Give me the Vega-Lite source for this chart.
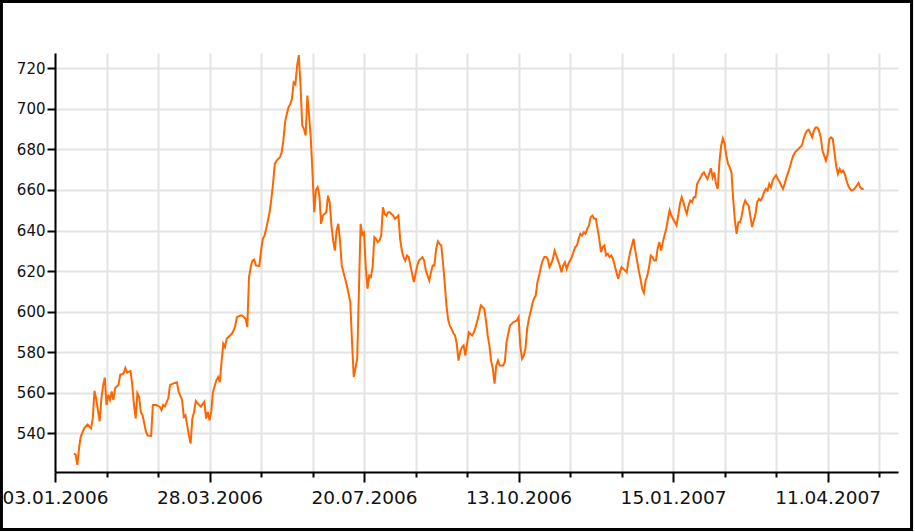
{
"$schema":"https://vega.github.io/schema/vega-lite/v6.json",
"width":843,"height":419,
"autosize":{"type":"none"},
"padding":{"left":55,"top":53,"right":17,"bottom":60},
"background":"white",
"config":{"view":{"stroke":null},"axis":{"domainColor":"#000000","domainWidth":2,"tickColor":"#000000","tickWidth":2,"gridColor":"#e3e3e3","gridWidth":2,"labelColor":"#111111","labelFont":"DejaVu Sans","title":null}},
"data":{"values":[
{"n":11,"v":530},{"n":12,"v":529.6},{"n":13,"v":524.5},{"n":14,"v":532.6},{"n":15,"v":538.5},{"n":17,"v":542.5},{"n":19,"v":544.4},{"n":21,"v":542.5},{"n":22,"v":547.4},{"n":23,"v":561},{"n":24,"v":557},{"n":26,"v":546},{"n":27,"v":557},{"n":28,"v":563.5},{"n":29,"v":567.5},{"n":30,"v":554},{"n":31,"v":559},{"n":32,"v":556.5},{"n":33,"v":560.7},{"n":34,"v":556.5},{"n":35,"v":562.3},{"n":37,"v":564},{"n":38,"v":568.9},{"n":40,"v":569.6},{"n":41,"v":572.2},{"n":42,"v":570},{"n":44,"v":570.8},{"n":45,"v":564},{"n":46,"v":554},{"n":47,"v":547.4},{"n":48,"v":559.8},{"n":49,"v":558},{"n":50,"v":550.6},{"n":51,"v":549},{"n":53,"v":540.8},{"n":54,"v":539},{"n":56,"v":538.8},{"n":57,"v":554},{"n":59,"v":554},{"n":61,"v":553.2},{"n":62,"v":551.5},{"n":63,"v":554},{"n":64,"v":553.3},{"n":66,"v":557.3},{"n":67,"v":563.9},{"n":69,"v":564.7},{"n":71,"v":565.2},{"n":72,"v":560.6},{"n":74,"v":556.5},{"n":75,"v":548.2},{"n":76,"v":549},{"n":77,"v":544},{"n":78,"v":539},{"n":79,"v":535},{"n":80,"v":547.4},{"n":81,"v":550.6},{"n":82,"v":556},{"n":84,"v":554},{"n":85,"v":553.2},{"n":87,"v":555.6},{"n":88,"v":547.4},{"n":89,"v":550.6},{"n":90,"v":546.5},{"n":91,"v":550.6},{"n":92,"v":560.5},{"n":94,"v":566.2},{"n":95,"v":567.8},{"n":96,"v":565.3},{"n":97,"v":575.2},{"n":98,"v":584.2},{"n":99,"v":582.6},{"n":100,"v":586.7},{"n":101,"v":587.5},{"n":103,"v":589.1},{"n":104,"v":590.7},{"n":105,"v":593.2},{"n":106,"v":597.3},{"n":108,"v":598.1},{"n":109,"v":598.1},{"n":111,"v":596.5},{"n":112,"v":592.4},{"n":113,"v":617},{"n":114,"v":622},{"n":115,"v":625.2},{"n":116,"v":625.7},{"n":117,"v":622.8},{"n":119,"v":622.5},{"n":120,"v":630},{"n":121,"v":635.8},{"n":122,"v":637.5},{"n":123,"v":640.8},{"n":124,"v":644.9},{"n":125,"v":649},{"n":126,"v":655.6},{"n":127,"v":663},{"n":128,"v":672.8},{"n":129,"v":674.4},{"n":131,"v":676.1},{"n":132,"v":678.5},{"n":133,"v":684.3},{"n":134,"v":693.3},{"n":135,"v":697.4},{"n":136,"v":700.7},{"n":137,"v":702.3},{"n":138,"v":704.8},{"n":139,"v":713},{"n":140,"v":712},{"n":141,"v":721},{"n":142,"v":726.5},{"n":143,"v":711.5},{"n":144,"v":691.8},{"n":145,"v":690},{"n":146,"v":686.9},{"n":147,"v":706.5},{"n":148,"v":696.7},{"n":149,"v":685.2},{"n":150,"v":668},{"n":151,"v":649},{"n":152,"v":660},{"n":153,"v":661.4},{"n":154,"v":657.2},{"n":155,"v":643.3},{"n":156,"v":647.4},{"n":157,"v":648.2},{"n":158,"v":649},{"n":159,"v":657.2},{"n":160,"v":654},{"n":161,"v":642.5},{"n":162,"v":635.1},{"n":163,"v":630.1},{"n":164,"v":640},{"n":165,"v":643.3},{"n":166,"v":635.1},{"n":167,"v":622.8},{"n":168,"v":619.5},{"n":169,"v":616.2},{"n":170,"v":612.9},{"n":171,"v":608.8},{"n":172,"v":604.7},{"n":173,"v":585},{"n":174,"v":567.8},{"n":175,"v":572},{"n":176,"v":576.8},{"n":177,"v":610},{"n":178,"v":643.3},{"n":179,"v":638},{"n":180,"v":639},{"n":181,"v":622},{"n":182,"v":611.3},{"n":183,"v":617.8},{"n":184,"v":617},{"n":185,"v":622},{"n":186,"v":636.7},{"n":187,"v":635.9},{"n":188,"v":634.3},{"n":189,"v":635.1},{"n":190,"v":637.5},{"n":191,"v":651.5},{"n":192,"v":648.2},{"n":193,"v":647.4},{"n":194,"v":649},{"n":195,"v":649},{"n":196,"v":648.2},{"n":197,"v":647.4},{"n":198,"v":645.8},{"n":199,"v":646.6},{"n":200,"v":647.4},{"n":201,"v":636},{"n":202,"v":630.1},{"n":203,"v":626.9},{"n":204,"v":625.2},{"n":205,"v":627.7},{"n":206,"v":626.9},{"n":207,"v":622.8},{"n":208,"v":618.7},{"n":209,"v":614.6},{"n":210,"v":618.7},{"n":211,"v":622.8},{"n":212,"v":625.2},{"n":214,"v":626.9},{"n":215,"v":625.2},{"n":216,"v":620.3},{"n":217,"v":617.8},{"n":218,"v":615.4},{"n":219,"v":619.5},{"n":220,"v":622.8},{"n":221,"v":622.8},{"n":222,"v":631},{"n":223,"v":634.6},{"n":224,"v":633.4},{"n":225,"v":632.5},{"n":226,"v":624},{"n":227,"v":614},{"n":228,"v":603},{"n":229,"v":596},{"n":230,"v":593},{"n":231,"v":591.5},{"n":232,"v":589.5},{"n":233,"v":588.3},{"n":234,"v":584.2},{"n":235,"v":575.9},{"n":236,"v":580.1},{"n":237,"v":582.5},{"n":238,"v":583.4},{"n":239,"v":578.4},{"n":240,"v":584.2},{"n":241,"v":589.9},{"n":243,"v":588.3},{"n":244,"v":589.9},{"n":245,"v":592.4},{"n":246,"v":595.7},{"n":247,"v":599},{"n":248,"v":603.1},{"n":249,"v":602.3},{"n":250,"v":601.4},{"n":251,"v":595.7},{"n":252,"v":588.3},{"n":253,"v":583.4},{"n":254,"v":575.9},{"n":255,"v":571.9},{"n":256,"v":564.5},{"n":257,"v":573.5},{"n":258,"v":575.9},{"n":259,"v":573.5},{"n":261,"v":573.5},{"n":262,"v":575.2},{"n":263,"v":585},{"n":264,"v":589.1},{"n":265,"v":593.2},{"n":266,"v":594},{"n":267,"v":594.9},{"n":268,"v":595.2},{"n":269,"v":595.7},{"n":270,"v":597.3},{"n":271,"v":583.4},{"n":272,"v":576.8},{"n":273,"v":578.4},{"n":274,"v":581.7},{"n":275,"v":591.5},{"n":276,"v":596.5},{"n":277,"v":599.8},{"n":278,"v":603.9},{"n":279,"v":606.4},{"n":280,"v":608},{"n":281,"v":614.6},{"n":282,"v":617.8},{"n":283,"v":622},{"n":284,"v":625.2},{"n":285,"v":626.9},{"n":286,"v":626.9},{"n":287,"v":626},{"n":288,"v":622},{"n":289,"v":623.6},{"n":290,"v":626},{"n":291,"v":630.1},{"n":292,"v":627.7},{"n":293,"v":625.2},{"n":294,"v":622.8},{"n":295,"v":619.5},{"n":296,"v":622.8},{"n":297,"v":624.4},{"n":298,"v":621.1},{"n":299,"v":623.6},{"n":300,"v":625.2},{"n":301,"v":626.9},{"n":302,"v":629.4},{"n":303,"v":631.8},{"n":304,"v":632.6},{"n":305,"v":635.9},{"n":306,"v":638.4},{"n":307,"v":637.5},{"n":308,"v":639.2},{"n":309,"v":638.4},{"n":310,"v":640.8},{"n":311,"v":642.5},{"n":312,"v":646.6},{"n":313,"v":647.4},{"n":314,"v":645.8},{"n":315,"v":645.8},{"n":316,"v":640.8},{"n":317,"v":635.9},{"n":318,"v":629.4},{"n":319,"v":631.8},{"n":320,"v":632.6},{"n":321,"v":627.7},{"n":322,"v":628.5},{"n":323,"v":626.9},{"n":324,"v":627.7},{"n":325,"v":626},{"n":326,"v":622.8},{"n":327,"v":619.5},{"n":328,"v":616.2},{"n":329,"v":619.5},{"n":330,"v":622},{"n":331,"v":621.1},{"n":332,"v":620.3},{"n":333,"v":619.5},{"n":334,"v":625.2},{"n":335,"v":629.4},{"n":336,"v":632.6},{"n":337,"v":635.9},{"n":338,"v":630.1},{"n":339,"v":625.2},{"n":340,"v":620.3},{"n":341,"v":616.2},{"n":342,"v":611.3},{"n":343,"v":609.3},{"n":344,"v":615.4},{"n":345,"v":617.8},{"n":346,"v":622},{"n":347,"v":627.7},{"n":348,"v":626.9},{"n":349,"v":625.2},{"n":350,"v":625.2},{"n":351,"v":631},{"n":352,"v":634.3},{"n":353,"v":630.1},{"n":354,"v":634.3},{"n":355,"v":637.5},{"n":356,"v":640.8},{"n":357,"v":645.8},{"n":358,"v":650},{"n":359,"v":647.4},{"n":361,"v":644.1},{"n":362,"v":642.5},{"n":363,"v":647.4},{"n":364,"v":653.2},{"n":365,"v":656.4},{"n":366,"v":654},{"n":367,"v":650.7},{"n":368,"v":648.2},{"n":369,"v":652.3},{"n":370,"v":654.8},{"n":371,"v":654},{"n":372,"v":656.4},{"n":373,"v":656.4},{"n":374,"v":663},{"n":375,"v":664.6},{"n":376,"v":666.2},{"n":377,"v":667.9},{"n":378,"v":668.7},{"n":379,"v":667},{"n":380,"v":665.4},{"n":381,"v":667.9},{"n":382,"v":670.7},{"n":383,"v":666.2},{"n":384,"v":668.7},{"n":385,"v":663},{"n":386,"v":660.5},{"n":387,"v":674},{"n":388,"v":681.8},{"n":389,"v":685.4},{"n":390,"v":683},{"n":391,"v":676.9},{"n":392,"v":672.8},{"n":393,"v":671.2},{"n":394,"v":668.7},{"n":395,"v":655.6},{"n":396,"v":645},{"n":397,"v":638.4},{"n":398,"v":644.1},{"n":399,"v":644.1},{"n":400,"v":647.4},{"n":401,"v":652.3},{"n":402,"v":654.8},{"n":403,"v":653.2},{"n":404,"v":652.3},{"n":405,"v":647},{"n":406,"v":641.7},{"n":407,"v":645},{"n":408,"v":648.2},{"n":409,"v":654},{"n":410,"v":655.6},{"n":411,"v":654.8},{"n":412,"v":656.4},{"n":413,"v":658.9},{"n":414,"v":660.5},{"n":415,"v":659.7},{"n":416,"v":663},{"n":417,"v":661.3},{"n":418,"v":664.6},{"n":419,"v":666.2},{"n":420,"v":667.3},{"n":421,"v":665.4},{"n":422,"v":664.1},{"n":423,"v":662.2},{"n":424,"v":660.5},{"n":425,"v":663},{"n":426,"v":666.2},{"n":427,"v":668.7},{"n":428,"v":671.2},{"n":429,"v":674.4},{"n":430,"v":676.9},{"n":431,"v":678.5},{"n":432,"v":679.4},{"n":433,"v":680.2},{"n":434,"v":681},{"n":435,"v":681.8},{"n":436,"v":685.1},{"n":437,"v":687.6},{"n":438,"v":689.2},{"n":439,"v":689.7},{"n":440,"v":688},{"n":441,"v":685.9},{"n":442,"v":689.2},{"n":443,"v":690.8},{"n":444,"v":690.8},{"n":445,"v":689.2},{"n":446,"v":685.9},{"n":447,"v":679.4},{"n":448,"v":676.9},{"n":449,"v":674.4},{"n":450,"v":677.7},{"n":451,"v":685.1},{"n":452,"v":685.9},{"n":453,"v":685.1},{"n":454,"v":678.5},{"n":455,"v":671.9},{"n":456,"v":667.9},{"n":457,"v":670.3},{"n":458,"v":668.7},{"n":459,"v":669.5},{"n":460,"v":667.9},{"n":461,"v":664.6},{"n":462,"v":662.2},{"n":463,"v":660.5},{"n":464,"v":659.7},{"n":465,"v":660.2},{"n":466,"v":660.9},{"n":467,"v":662.2},{"n":468,"v":663.5},{"n":469,"v":661.3},{"n":470,"v":660.5},{"n":471,"v":660.5}
]},
"layer":[
{"mark":{"type":"line","color":"#ff6600","strokeWidth":2},
"encoding":{
"x":{"field":"n","type":"quantitative","scale":{"domain":[0,491],"nice":false,"zero":false},
"axis":{"values":[0,30,60,90,120,150,180,210,240,270,300,330,360,390,420,450,480],"grid":true,"tickSize":{"condition":{"test":"datum.value % 90 === 0","value":10},"value":5},"labelExpr":"datum.value == 0 ? '03.01.2006' : datum.value == 90 ? '28.03.2006' : datum.value == 180 ? '20.07.2006' : datum.value == 270 ? '13.10.2006' : datum.value == 360 ? '15.01.2007' : datum.value == 450 ? '11.04.2007' : ''","labelFontSize":18.5,"labelPadding":6,"labelFlush":false,"labelOverlap":false,"labelBound":false}},
"y":{"field":"v","type":"quantitative","scale":{"domain":[521,727.5],"nice":false,"zero":false},
"axis":{"values":[540,560,580,600,620,640,660,680,700,720],"grid":true,"tickSize":8,"labelPadding":2,"labelFontSize":15,"labelOverlap":false,"labelFlush":false}}
}},
{"data":{"values":[{}]},"mark":{"type":"rect","filled":false,"stroke":"#000000","strokeWidth":3,"clip":false},
"encoding":{"x":{"datum":-31.2},"x2":{"datum":498.9},"y":{"datum":752.9},"y2":{"datum":492.7}}}
]
}
